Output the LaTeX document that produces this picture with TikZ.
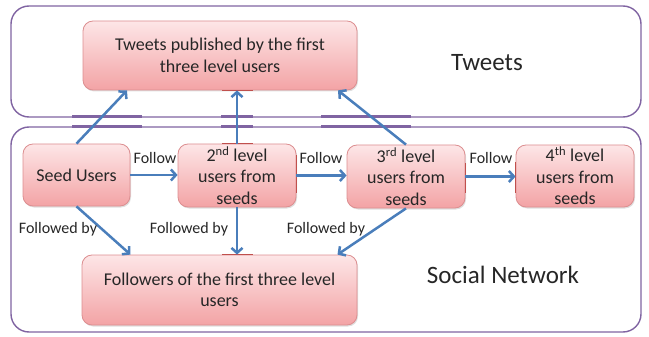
\documentclass[tikz,border=0pt]{standalone}
\usepackage{fontspec}
\setmainfont{Carlito}
\usetikzlibrary{arrows.meta,shadows,calc}
\definecolor{boxpurple}{HTML}{8064A2}
\definecolor{arrowblue}{HTML}{4A7EBB}
\definecolor{nodetop}{HTML}{FDE6E7}
\definecolor{nodebot}{HTML}{F3A3A5}
\definecolor{nodeedge}{HTML}{DC8E90}
\definecolor{markred}{HTML}{C0504D}
\tikzset{
  area/.style={draw=boxpurple, line width=1.4pt, rounded corners=18pt},
  areamark/.style={boxpurple, line width=3pt},
  nbox/.style={draw=nodeedge, line width=0.8pt, rounded corners=10pt,
    top color=nodetop, bottom color=nodebot, align=center, inner sep=0pt,
    font=\fontsize{18}{21.5}\selectfont, text=black!85,
    drop shadow={opacity=0.25, shadow xshift=1pt, shadow yshift=-1.5pt}},
  arr/.style={draw=arrowblue, line width=2.5pt, -{Straight Barb[length=5pt,width=11pt]}},
  elabel/.style={font=\fontsize{16}{18}\selectfont, text=black!85, inner sep=0pt},
  biglabel/.style={font=\fontsize{25}{28}\selectfont, text=black!85, inner sep=0pt},
  redmark/.style={markred, line width=1.6pt},
}
\begin{document}
\begin{tikzpicture}[x=1pt,y=-1pt]
\useasboundingbox (0,0) rectangle (649,337);
% areas
\draw[area] (11,6) rectangle (641,117);
\draw[area] (11,127) rectangle (641,332);
\foreach \a/\b in {72/142,221/253,321/411}{
  \draw[areamark] (\a,117) -- (\b,117);
  \draw[areamark] (\a,127) -- (\b,127);
}
% nodes
\node[nbox, minimum width=274pt, minimum height=69pt] (tw) at (220,55.5) {Tweets published by the first\\three level users};
\node[nbox, minimum width=107pt, minimum height=62pt] (seed) at (76.5,175) {Seed Users};
\node[nbox, minimum width=118pt, minimum height=63pt] (l2) at (237,175.5) {2\textsuperscript{nd} level\\users from\\seeds};
\node[nbox, minimum width=118pt, minimum height=63pt] (l3) at (406,176.5) {3\textsuperscript{rd} level\\users from\\seeds};
\node[nbox, minimum width=118pt, minimum height=62pt] (l4) at (575,176) {4\textsuperscript{th} level\\users from\\seeds};
\node[nbox, minimum width=275pt, minimum height=70pt] (fol) at (219.5,290) {Followers of the first three level\\users};
% red connection marks
\draw[redmark] ([xshift=2pt]tw.south) -- ([xshift=33pt]tw.south);
\draw[redmark] ([xshift=-15pt]l2.north) -- ([xshift=16pt]l2.north);
\draw[redmark] ([xshift=-15pt]l2.north |- fol.north) -- ([xshift=16pt]l2.north |- fol.north);
\draw[redmark] (l2.east |- 0,155) -- (l2.east |- 0,193);
\draw[redmark] (l3.east |- 0,163) -- (l3.east |- 0,193);
\draw[redmark] (l4.west |- 0,162) -- (l4.west |- 0,193);
% big labels
\node[biglabel] (tweetslab) at (487,63) {Tweets};
\node[biglabel] (snlab) at (503,275) {Social Network};
% arrows
\draw[arr] (seed.north) -- ([xshift=-93pt]tw.south);
\draw[arr] (l2.north) -- (l2.north |- tw.south);
\draw[arr] (l3.north) -- ([xshift=118pt]tw.south);
\draw[arr] (seed.east) -- (l2.west |- seed.east);
\draw[arr] (l2.east) -- (l3.west |- l2.east);
\draw[arr] (l3.east) -- (l4.west |- l3.east);
\draw[arr] (seed.south) -- ([xshift=-89pt]fol.north);
\draw[arr] (l2.south) -- (l2.south |- fol.north);
\draw[arr] (l3.south) -- ([xshift=118pt]fol.north);
% edge labels
\node[elabel] (f1) at (155,158) {Follow};
\node[elabel] (f2) at (321,158) {Follow};
\node[elabel] (f3) at (491,158) {Follow};
\node[elabel] (fb1) at (58,229) {Followed by};
\node[elabel] (fb2) at (189,229) {Followed by};
\node[elabel] (fb3) at (326,229) {Followed by};
\end{tikzpicture}
\end{document}
